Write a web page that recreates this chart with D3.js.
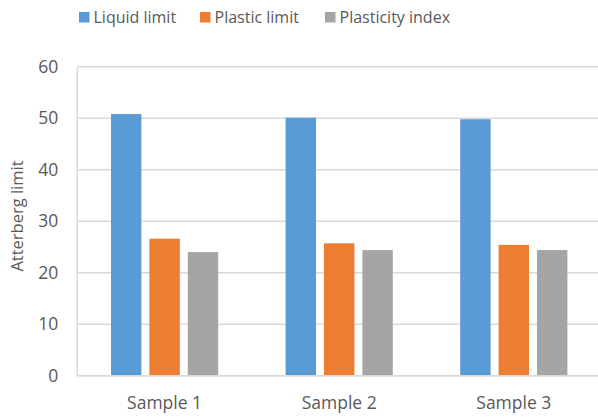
<!DOCTYPE html>
<html>
<head>
<meta charset="utf-8">
<script src="https://cdn.jsdelivr.net/npm/d3@7"></script>
<style>
  body { margin: 0; background: #fff; }
  text { font-family: "Open Sans", sans-serif; fill: #595959; }
</style>
</head>
<body>
<div class="canvas"></div>
<script>
// chart data
const samples = ['Sample 1', 'Sample 2', 'Sample 3'];
const seriesNames = ['Liquid limit', 'Plastic limit', 'Plasticity index'];
const liquidLimit = [50.8, 50.1, 49.8];
const plasticLimit = [26.6, 25.7, 25.4];
const plasticityIndex = [24.0, 24.4, 24.4];
const yTicks = [0, 10, 20, 30, 40, 50, 60];

const seriesValues = [liquidLimit, plasticLimit, plasticityIndex];
const colors = ['#5b9bd5', '#ed7d31', '#a5a5a5'];

const dims = { width: 598, height: 418 };
const plot = { left: 77.3, right: 601.1, top: 66.7, bottom: 375.7 };

const svg = d3
  .select('.canvas')
  .append('svg')
  .attr('width', dims.width)
  .attr('height', dims.height);

// scales
const x0 = d3
  .scaleBand()
  .domain(samples)
  .range([plot.left, plot.right])
  .padding(0);

const x1 = d3
  .scaleBand()
  .domain(seriesNames)
  .range([0, 107.2])
  .paddingInner(0.208)
  .paddingOuter(0);

const y = d3
  .scaleLinear()
  .domain([0, 60])
  .range([plot.bottom, plot.top]);

// gridlines
svg
  .append('g')
  .selectAll('line')
  .data(yTicks)
  .enter()
  .append('line')
  .attr('x1', plot.left)
  .attr('x2', dims.width)
  .attr('y1', d => y(d))
  .attr('y2', d => y(d))
  .attr('stroke', '#d9d9d9')
  .attr('stroke-width', 1.5);

// left axis line
svg
  .append('line')
  .attr('x1', plot.left)
  .attr('x2', plot.left)
  .attr('y1', plot.top)
  .attr('y2', plot.bottom)
  .attr('stroke', '#d9d9d9')
  .attr('stroke-width', 1.5);

// y tick labels
const yAxis = d3.axisLeft(y).tickValues(yTicks).tickSize(0).tickPadding(19);
const yG = svg
  .append('g')
  .attr('transform', `translate(${plot.left}, 0)`)
  .call(yAxis);
yG.select('.domain').remove();
yG.selectAll('text')
  .style('font-size', '17.5px')
  .attr('fill', '#595959');

// x labels
const xAxis = d3.axisBottom(x0).tickSize(0).tickPadding(0);
const xG = svg
  .append('g')
  .attr('transform', `translate(0, 409)`)
  .call(xAxis);
xG.select('.domain').remove();
xG.selectAll('text')
  .attr('dy', 0)
  .style('font-size', '17.5px')
  .attr('fill', '#595959');

// bars
const groups = svg
  .append('g')
  .selectAll('g')
  .data(samples)
  .enter()
  .append('g')
  .attr('transform', d => `translate(${x0(d) + (x0.bandwidth() - 107.2) / 2}, 0)`);

groups
  .selectAll('rect')
  .data((d, i) => seriesNames.map((s, j) => ({ series: s, value: seriesValues[j][i], color: colors[j] })))
  .enter()
  .append('rect')
  .attr('x', d => x1(d.series))
  .attr('width', x1.bandwidth())
  .attr('y', d => y(d.value))
  .attr('height', d => y(0) - y(d.value))
  .attr('fill', d => d.color);

// bottom axis line drawn over bars
svg
  .append('line')
  .attr('x1', plot.left)
  .attr('x2', dims.width)
  .attr('y1', plot.bottom)
  .attr('y2', plot.bottom)
  .attr('stroke', '#d9d9d9')
  .attr('stroke-width', 1.5);

// y axis title
svg
  .append('text')
  .attr('transform', `translate(22.5, 216) rotate(-90)`)
  .attr('text-anchor', 'middle')
  .style('font-size', '16.5px')
  .text('Atterberg limit');

// legend
const legendX = [79, 200, 325];
const legend = svg
  .append('g')
  .selectAll('g')
  .data(seriesNames)
  .enter()
  .append('g')
  .attr('transform', (d, i) => `translate(${legendX[i]}, 0)`);

legend
  .append('rect')
  .attr('x', 0)
  .attr('y', 12)
  .attr('width', 10.5)
  .attr('height', 10.5)
  .attr('fill', (d, i) => colors[i]);

legend
  .append('text')
  .attr('x', 14.5)
  .attr('y', 23)
  .style('font-size', '16px')
  .text(d => d);
</script>
</body>
</html>
